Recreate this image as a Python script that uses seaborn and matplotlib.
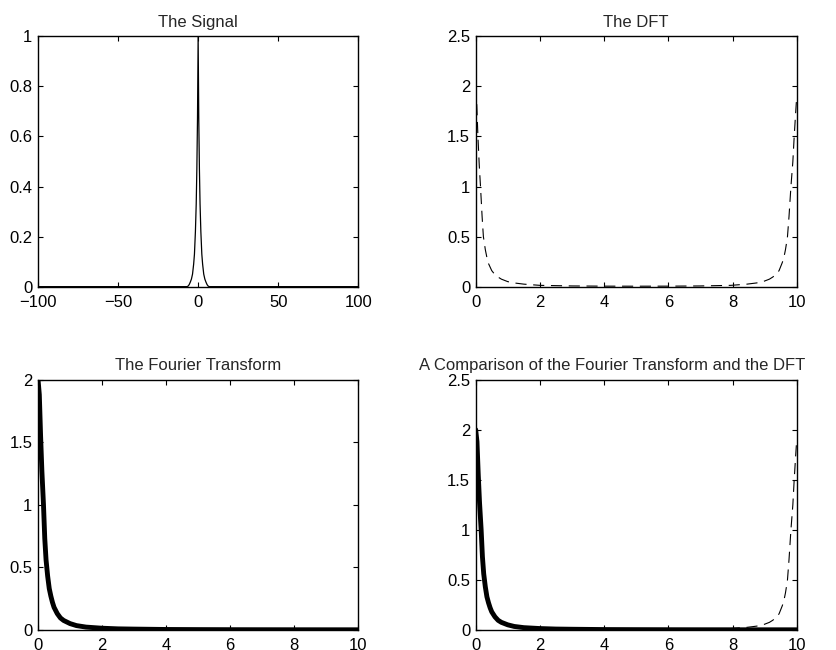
import matplotlib
matplotlib.use("Agg")
import matplotlib.pyplot as plt
import seaborn as sns

# values
sig_t = [-100, -7, -6.3, -5.6, -4.9, -4.2, -3.5, -2.8, -2.3, -1.7, -1.2,
         -0.8, -0.4, 0, 0.4, 0.8, 1.2, 1.7, 2.3, 2.8, 3.5, 4.2, 4.9,
         5.6, 6.3, 7, 100]
sig_y = [0, 0, 0.002, 0.008, 0.018, 0.03, 0.05, 0.09, 0.13, 0.22, 0.33,
         0.47, 0.67, 1.0, 0.67, 0.47, 0.33, 0.22, 0.13, 0.09, 0.05, 0.03,
         0.018, 0.008, 0.002, 0, 0]

dft_f = [0, 0.03, 0.07, 0.11, 0.15, 0.2, 0.24, 0.3, 0.35, 0.4, 0.5, 0.6,
         0.7, 0.8, 1.0, 1.2, 1.5, 2, 3, 4, 5,
         6, 7, 7.95, 8.45, 8.75, 8.95, 9.15, 9.25, 9.35, 9.45, 9.55, 9.6,
         9.65, 9.71, 9.76, 9.82, 9.88, 9.92, 9.96, 10]
dft_y = [2.0, 1.85, 1.5, 1.22, 1.0, 0.7, 0.5, 0.37, 0.29, 0.23, 0.16, 0.12,
         0.095, 0.075, 0.05, 0.037, 0.025, 0.013, 0.007, 0.005, 0.0045,
         0.005, 0.007, 0.013, 0.025, 0.037, 0.05, 0.075, 0.095, 0.12, 0.16,
         0.24, 0.29, 0.37, 0.49, 0.7, 1.0, 1.25, 1.49, 1.7, 1.9]

ft_f = [0, 0.04, 0.08, 0.12, 0.17, 0.21, 0.25, 0.3, 0.35, 0.4, 0.45, 0.5,
        0.6, 0.7, 0.8, 1.0, 1.2, 1.5, 2, 2.5, 3, 4, 5, 6, 7, 8, 9, 10]
ft_y = [2.0, 1.88, 1.55, 1.27, 1.0, 0.73, 0.56, 0.43, 0.33, 0.27, 0.22,
        0.18, 0.13, 0.095, 0.075, 0.05, 0.034, 0.022, 0.013, 0.008, 0.006,
        0.003, 0.002, 0.0014, 0.001, 0.0008, 0.0006, 0.0005]

freq_ticks = [0, 2, 4, 6, 8, 10]
time_ticks = [-100, -50, 0, 50, 100]
time_labels = ["\u2212100", "\u221250", "0", "50", "100"]
sig_yticks = [0, 0.2, 0.4, 0.6, 0.8, 1]
sig_ylabels = ["0", "0.2", "0.4", "0.6", "0.8", "1"]
dft_yticks = [0, 0.5, 1, 1.5, 2, 2.5]
dft_ylabels = ["0", "0.5", "1", "1.5", "2", "2.5"]
ft_yticks = [0, 0.5, 1, 1.5, 2]
ft_ylabels = ["0", "0.5", "1", "1.5", "2"]

titles = ["The Signal", "The DFT", "The Fourier Transform",
          "A Comparison of the Fourier Transform and the DFT"]
title_x = [0.5, 0.5, 0.5, 0.426]

sns.set_style("ticks")
plt.rcParams["font.family"] = ["Liberation Sans", "DejaVu Sans"]
plt.rcParams["font.size"] = 12

fig = plt.figure(figsize=(8.36, 6.5), dpi=100)
boxes = [[0.0455, 0.559, 0.383, 0.385],
         [0.569, 0.559, 0.384, 0.385],
         [0.0455, 0.031, 0.383, 0.385],
         [0.569, 0.031, 0.384, 0.385]]
axs = [fig.add_axes(b) for b in boxes]

dash = (0, (10, 6))

# the signal
sns.lineplot(x=sig_t, y=sig_y, ax=axs[0], color="k", linewidth=0.9)
axs[0].set_xlim(-100, 100)
axs[0].set_ylim(0, 1)
axs[0].set_xticks(time_ticks, time_labels)
axs[0].set_yticks(sig_yticks, sig_ylabels)

# the DFT
sns.lineplot(x=dft_f, y=dft_y, ax=axs[1], color="k", linewidth=0.8,
             linestyle=dash)
axs[1].set_xlim(0, 10)
axs[1].set_ylim(0, 2.5)
axs[1].set_yticks(dft_yticks, dft_ylabels)

# the Fourier transform
sns.lineplot(x=ft_f, y=ft_y, ax=axs[2], color="k", linewidth=3.5)
axs[2].set_xlim(0, 10)
axs[2].set_ylim(0, 2)
axs[2].set_yticks(ft_yticks, ft_ylabels)

# comparison
sns.lineplot(x=dft_f, y=dft_y, ax=axs[3], color="k", linewidth=0.8,
             linestyle=dash)
sns.lineplot(x=ft_f, y=ft_y, ax=axs[3], color="k", linewidth=3.5)
axs[3].set_xlim(0, 10)
axs[3].set_ylim(0, 2.5)
axs[3].set_yticks(dft_yticks, dft_ylabels)

for i, ax in enumerate(axs):
    if i > 0:
        ax.set_xticks(freq_ticks, [str(v) for v in freq_ticks])
    ax.set_title(titles[i], fontsize=12, pad=7, x=title_x[i])
    ax.tick_params(direction="in", length=3.5, width=0.8, top=True,
                   right=True, labelsize=12, colors="k")
    ax.tick_params(axis="x", pad=6)
    ax.tick_params(axis="y", pad=4)
    for s in ax.spines.values():
        s.set_visible(True)
        s.set_linewidth(1.0)
        s.set_color("k")
    ax.set_xlabel("")
    ax.set_ylabel("")

fig.savefig("out.png", dpi=100)
